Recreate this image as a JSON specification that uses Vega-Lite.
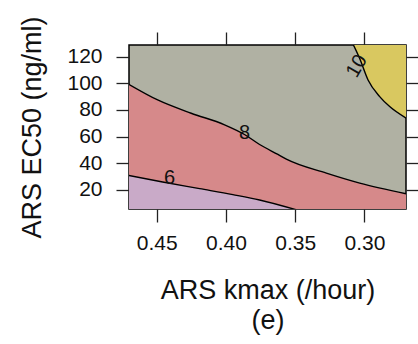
{
  "$schema": "https://vega.github.io/schema/vega-lite/v6.json",
  "width": 277,
  "height": 164,
  "autosize": {"type": "none"},
  "padding": {"left": 129, "top": 45, "right": 12, "bottom": 135},
  "background": "white",
  "view": {"fill": "#b0b1a3", "stroke": "black", "strokeWidth": 1.5},
  "config": {
    "font": "Liberation Sans",
    "axis": {
      "labelFont": "Liberation Sans",
      "titleFont": "Liberation Sans",
      "labelFontSize": 21,
      "titleFontSize": 27,
      "titleFontWeight": "normal",
      "labelColor": "#111",
      "titleColor": "#111",
      "tickColor": "#222",
      "tickWidth": 1.3,
      "tickSize": 13,
      "domain": false,
      "grid": false
    }
  },
  "datasets": {
    "contours": [
      {"level": 6, "kmax": 0.4702, "ec50": 30.75},
      {"level": 6, "kmax": 0.4457, "ec50": 25.8},
      {"level": 6, "kmax": 0.419, "ec50": 20.8},
      {"level": 6, "kmax": 0.395, "ec50": 16.3},
      {"level": 6, "kmax": 0.3757, "ec50": 12.3},
      {"level": 6, "kmax": 0.3495, "ec50": 5},
      {"level": 8, "kmax": 0.4702, "ec50": 99.3},
      {"level": 8, "kmax": 0.4493, "ec50": 87.5},
      {"level": 8, "kmax": 0.4251, "ec50": 77.5},
      {"level": 8, "kmax": 0.401, "ec50": 68.8},
      {"level": 8, "kmax": 0.3866, "ec50": 61.5},
      {"level": 8, "kmax": 0.3757, "ec50": 54},
      {"level": 8, "kmax": 0.3625, "ec50": 46.5},
      {"level": 8, "kmax": 0.3564, "ec50": 43},
      {"level": 8, "kmax": 0.3275, "ec50": 32.5},
      {"level": 8, "kmax": 0.3034, "ec50": 25},
      {"level": 8, "kmax": 0.2699, "ec50": 17},
      {"level": 10, "kmax": 0.3085, "ec50": 130},
      {"level": 10, "kmax": 0.3035, "ec50": 118.8},
      {"level": 10, "kmax": 0.2974, "ec50": 102.5},
      {"level": 10, "kmax": 0.289, "ec50": 90},
      {"level": 10, "kmax": 0.2818, "ec50": 82.5},
      {"level": 10, "kmax": 0.2699, "ec50": 73.8}
    ],
    "labels": [
      {"label": "6", "kmax": 0.4408, "ec50": 29, "angle": 0},
      {"label": "8", "kmax": 0.3866, "ec50": 63, "angle": 0},
      {"label": "10", "kmax": 0.3055, "ec50": 113, "angle": -60}
    ]
  },
  "resolve": {"axis": {"x": "independent", "y": "independent"}},
  "layer": [
    {
      "data": {"name": "contours"},
      "transform": [{"filter": "datum.level == 8"}],
      "mark": {"type": "area", "color": "#d6898a", "clip": true, "interpolate": "monotone"},
      "encoding": {
        "x": {"field": "kmax", "type": "quantitative",
          "scale": {"domain": [0.27, 0.47], "reverse": true, "nice": false, "zero": false},
          "axis": {"orient": "bottom", "values": [0.3, 0.35, 0.4, 0.45], "format": ".2f", "labelPadding": 10,
            "title": ["ARS kmax (/hour)", "(e)"], "titlePadding": 24, "titleLineHeight": 30}},
        "y": {"field": "ec50", "type": "quantitative",
          "scale": {"domain": [5.5, 128.8], "nice": false, "zero": false},
          "axis": {"orient": "left", "values": [20, 40, 60, 80, 100, 120], "labelPadding": 14,
            "title": "ARS EC50 (ng/ml)", "titlePadding": 20}},
        "y2": {"datum": -50}
      }
    },
    {
      "data": {"name": "contours"},
      "transform": [{"filter": "datum.level == 6"}],
      "mark": {"type": "area", "color": "#c9aac8", "clip": true, "interpolate": "monotone"},
      "encoding": {
        "x": {"field": "kmax", "type": "quantitative",
          "axis": {"orient": "top", "values": [0.3, 0.35, 0.4, 0.45], "labels": true, "labelExpr": "''", "title": null}},
        "y": {"field": "ec50", "type": "quantitative",
          "axis": {"orient": "right", "values": [20, 40, 60, 80, 100, 120], "labels": true, "labelExpr": "''", "title": null}},
        "y2": {"datum": -50}
      }
    },
    {
      "data": {"name": "contours"},
      "transform": [{"filter": "datum.level == 10"}],
      "mark": {"type": "area", "color": "#d9c860", "clip": true, "interpolate": "monotone"},
      "encoding": {
        "x": {"field": "kmax", "type": "quantitative", "axis": null},
        "y": {"field": "ec50", "type": "quantitative", "axis": null},
        "y2": {"datum": 300}
      }
    },
    {
      "data": {"name": "contours"},
      "mark": {"type": "line", "color": "black", "strokeWidth": 1.4, "clip": true, "interpolate": "monotone"},
      "encoding": {
        "x": {"field": "kmax", "type": "quantitative", "axis": null},
        "y": {"field": "ec50", "type": "quantitative", "axis": null},
        "detail": {"field": "level", "type": "nominal"}
      }
    },
    {
      "data": {"name": "labels"},
      "mark": {"type": "text", "fontSize": 20, "font": "Liberation Sans", "color": "#111"},
      "encoding": {
        "x": {"field": "kmax", "type": "quantitative", "axis": null},
        "y": {"field": "ec50", "type": "quantitative", "axis": null},
        "text": {"field": "label"},
        "angle": {"field": "angle", "type": "quantitative", "scale": null}
      }
    }
  ]
}
